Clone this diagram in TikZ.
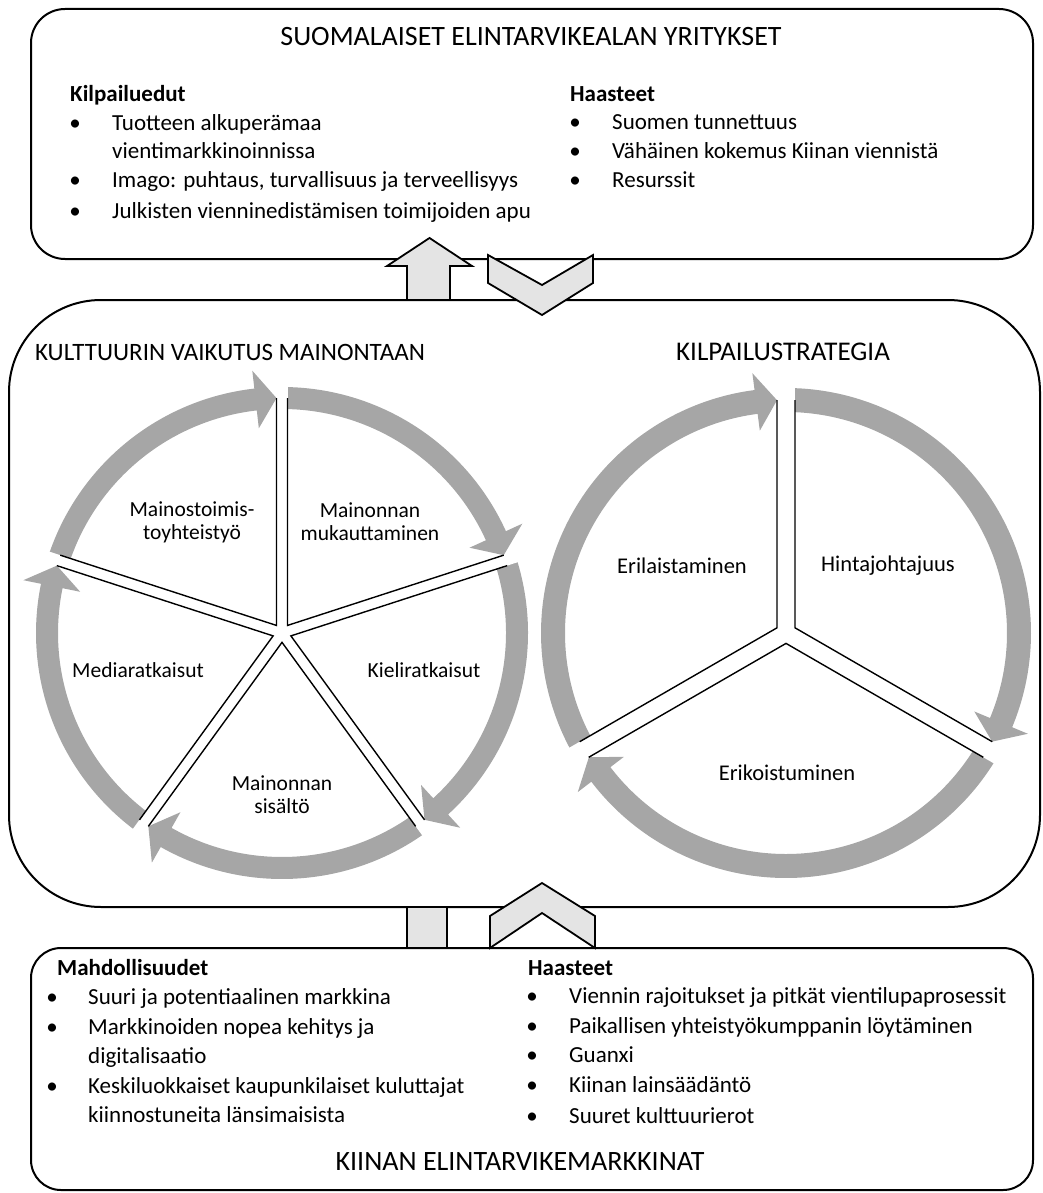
\documentclass[tikz,border=0pt]{standalone}
\usepackage{fontspec}
\setmainfont{Carlito}
\usetikzlibrary{calc}
\definecolor{ringgray}{RGB}{166,166,166}
\definecolor{blockfill}{RGB}{228,228,228}
\newcommand\cyclearrow[7]{% #1 start angle, #2 end divider angle, #3 ri, #4 ro, #5 rm, #6 head half width, #7 gap half width
  \pgfmathsetmacro\tipA{#2+asin(#7/#5)}
  \pgfmathsetmacro\headA{\tipA+21/#5*180/pi}
  \pgfmathsetmacro\rin{#5-#6}
  \pgfmathsetmacro\rout{#5+#6}
  \fill[ring] (#1:#3) arc[start angle=#1, end angle=\headA, radius=#3] -- (\headA:\rin) -- (\tipA:#5) -- (\headA:\rout) -- (\headA:#4) arc[start angle=\headA, end angle=#1, radius=#4] -- cycle;
}
\newcommand\sectoredges[4]{% #1 first edge angle, #2 sector angle, #3 gap half width, #4 edge length
  \pgfmathsetmacro\bis{#1+#2/2}
  \pgfmathsetmacro\apx{#3/sin(#2/2)}
  \pgfmathsetmacro\tha{#1+#2}
  \draw[divider] ($(\bis:\apx)+(\tha:#4)$) -- (\bis:\apx) -- ($(\bis:\apx)+(#1:#4)$);
}
\begin{document}
\begin{tikzpicture}[x=1pt,y=1pt,
  frame/.style={draw, line width=2pt, inner sep=0pt},
  title/.style={font=\fontsize{28}{32}\selectfont, inner sep=0pt},
  midtitle/.style={font=\fontsize{25}{30}\selectfont, inner sep=0pt},
  midtitler/.style={font=\fontsize{27}{30}\selectfont, inner sep=0pt},
  colhead/.style={font=\fontsize{23}{27}\selectfont\bfseries, anchor=west, inner sep=0pt, text height=16pt, text depth=5pt},
  txt/.style={font=\fontsize{23}{27}\selectfont, anchor=west, inner sep=0pt, text height=16pt, text depth=5pt},
  dot/.style={font=\fontsize{23}{27}\selectfont, inner sep=0pt, text height=16pt, text depth=5pt},
  seglabel/.style={font=\fontsize{21.5}{23}\selectfont, align=center, inner sep=0pt},
  seglabelr/.style={font=\fontsize{22.5}{25}\selectfont, align=center, inner sep=0pt},
  block/.style={draw, line width=1.8pt, fill=blockfill, line join=miter},
  ring/.style={fill=ringgray},
  divider/.style={line width=1.4pt, line join=miter},
  gapband/.style={fill=white}
]
\useasboundingbox (0,0) rectangle (1043,-1193);

% frames
\node[frame, rounded corners=34pt, minimum width=1002pt, minimum height=250pt] (topbox) at (532,-134) {};
\node[frame, rounded corners=92pt, minimum width=1031pt, minimum height=607pt] (midbox) at (524.5,-603.5) {};
\node[frame, rounded corners=30pt, minimum width=1002pt, minimum height=242pt] (botbox) at (532,-1069) {};

% block connectors
\draw[block] (407,-300) -- (407,-266) -- (387,-266) -- (429.5,-238) -- (472,-266) -- (450,-266) -- (450,-300) -- cycle;
\draw[block] (488,-255) -- (542,-285) -- (593,-255) -- (593,-283) -- (542,-315) -- (488,-283) -- cycle;
\draw[block] (407,-907) rectangle (447,-948);
\draw[block] (490,-948) -- (490,-916) -- (542,-883) -- (595,-916) -- (595,-948) -- (542,-913) -- cycle;

% left cycle
\coordinate (lc) at (282,-633);
\begin{scope}[shift={(lc)}]
  \foreach \a in {162,90,18,-54,-126} {\cyclearrow{\a}{\a-72}{224}{246}{235}{29}{5.5}}
  \foreach \a in {90,18,-54,-126,162} {\fill[gapband, rotate=\a] (0,-5.5) rectangle (262,5.5);}
  \foreach \a in {18,90,162,234,306} {\sectoredges{\a}{72}{5.5}{227.4}}
\end{scope}

% right cycle
\coordinate (rc) at (786,-633);
\begin{scope}[shift={(rc)}]
  \foreach \a in {210,90,-30} {\cyclearrow{\a}{\a-120}{221}{245}{233}{29}{9}}
  \foreach \a in {90,-30,210} {\fill[gapband, rotate=\a] (0,-9) rectangle (262,9);}
  \foreach \a in {-30,90,210} {\sectoredges{\a}{120}{9}{227.8}}
\end{scope}

% top box texts
\node[title] (ttl1) at (531,-37) {SUOMALAISET ELINTARVIKEALAN YRITYKSET};
\node[colhead] (kh) at (70,-96) {Kilpailuedut};
\node[dot] (kb1) at (75,-125) {•};
\node[txt] (kt1) at (112,-125) {Tuotteen alkuperämaa};
\node[txt] (kt1b) at (112,-153) {vientimarkkinoinnissa};
\node[dot] (kb2) at (75,-182) {•};
\node[txt] (kt2) at (112,-182) {Imago: puhtaus, turvallisuus ja terveellisyys};
\node[dot] (kb3) at (75,-213) {•};
\node[txt] (kt3) at (112,-213) {Julkisten vienninedistämisen toimijoiden apu};
\node[colhead] (hh) at (570,-96) {Haasteet};
\node[dot] (hb1) at (575,-124) {•};
\node[txt] (ht1) at (612,-124) {Suomen tunnettuus};
\node[dot] (hb2) at (575,-153) {•};
\node[txt] (ht2) at (612,-153) {Vähäinen kokemus Kiinan viennistä};
\node[dot] (hb3) at (575,-182) {•};
\node[txt] (ht3) at (612,-182) {Resurssit};

% middle texts
\node[midtitle] (ttl2) at (230,-352) {KULTTUURIN VAIKUTUS MAINONTAAN};
\node[midtitler] (ttl3) at (783,-352) {KILPAILUSTRATEGIA};
\node[seglabel] (m1) at (192,-522) {Mainostoimis-\\toyhteistyö};
\node[seglabel] (m2) at (370,-522) {Mainonnan\\mukauttaminen};
\node[seglabel] (m3) at (424,-670) {Kieliratkaisut};
\node[seglabel] (m4) at (282,-795) {Mainonnan\\sisältö};
\node[seglabel] (m5) at (138,-670) {Mediaratkaisut};
\node[seglabelr] (s1) at (682,-566) {Erilaistaminen};
\node[seglabelr] (s2) at (888,-566) {Hintajohtajuus};
\node[seglabelr] (s3) at (787,-773) {Erikoistuminen};

% bottom box texts
\node[colhead] (mh) at (57,-970) {Mahdollisuudet};
\node[dot] (mb1) at (52,-999) {•};
\node[txt] (mt1) at (88,-999) {Suuri ja potentiaalinen markkina};
\node[dot] (mb2) at (52,-1029) {•};
\node[txt] (mt2) at (88,-1029) {Markkinoiden nopea kehitys ja};
\node[txt] (mt2b) at (88,-1058) {digitalisaatio};
\node[dot] (mb3) at (52,-1088) {•};
\node[txt] (mt3) at (88,-1088) {Keskiluokkaiset kaupunkilaiset kuluttajat};
\node[txt] (mt3b) at (88,-1117) {kiinnostuneita länsimaisista};
\node[colhead] (ch) at (528,-970) {Haasteet};
\node[dot] (cb1) at (532,-998) {•};
\node[txt] (ct1) at (569,-998) {Viennin rajoitukset ja pitkät vientilupaprosessit};
\node[dot] (cb2) at (532,-1028) {•};
\node[txt] (ct2) at (569,-1028) {Paikallisen yhteistyökumppanin löytäminen};
\node[dot] (cb3) at (532,-1057) {•};
\node[txt] (ct3) at (569,-1057) {Guanxi};
\node[dot] (cb4) at (532,-1087) {•};
\node[txt] (ct4) at (569,-1087) {Kiinan lainsäädäntö};
\node[dot] (cb5) at (532,-1118) {•};
\node[txt] (ct5) at (569,-1118) {Suuret kulttuurierot};
\node[title] (ttl4) at (520,-1162) {KIINAN ELINTARVIKEMARKKINAT};
\end{tikzpicture}
\end{document}
